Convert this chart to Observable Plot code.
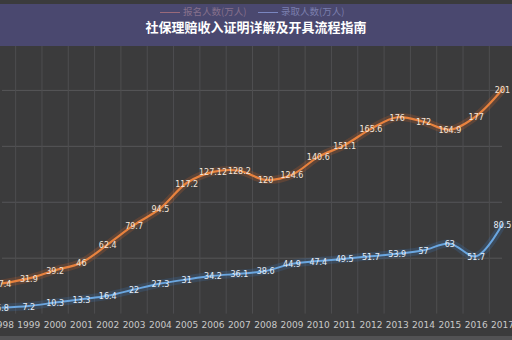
<!DOCTYPE html>
<html>
<head>
<meta charset="utf-8">
<script src="https://cdn.jsdelivr.net/npm/d3@7"></script>
<script src="https://cdn.jsdelivr.net/npm/@observablehq/plot@0.6"></script>
<style>
  html, body { margin: 0; padding: 0; background: #3a3a3a; }
  #wrap { position: relative; width: 512px; height: 340px; overflow: hidden; background: #3b3b3c; }
  #banner { position: absolute; left: 0; top: 4px; width: 512px; height: 42px; background: #4a486f; }
  #title { position: absolute; left: 0; top: 20px; width: 512px; text-align: center; color: #ffffff;
           font-family: "Noto Sans CJK SC", sans-serif; font-weight: bold; font-size: 13px; line-height: 14px; }
  .leg { position: absolute; top: 6px; font-family: "Noto Sans CJK SC", sans-serif; font-size: 9.5px; line-height: 11px; white-space: nowrap; }
  .leg span.ln { display: inline-block; width: 20px; height: 0; border-top: 1px solid; vertical-align: middle; margin-right: 3px; }
  #bottom { position: absolute; left: 0; top: 336px; width: 512px; height: 4px; background: #525254; }
  #chart { position: absolute; left: 0; top: 0; }
</style>
</head>
<body>
<div id="wrap">
  <div id="chart"></div>
  <div id="banner"></div>
  <div class="leg" style="left:160px;color:#86708c"><span class="ln" style="border-color:#9a6a7a"></span>报名人数(万人)</div>
  <div class="leg" style="left:258px;color:#7b7fae"><span class="ln" style="border-color:#7a86c0"></span>录取人数(万人)</div>
  <div id="title">社保理赔收入证明详解及开具流程指南</div>
  <div id="bottom"></div>
</div>
<script>
const years = [1998,1999,2000,2001,2002,2003,2004,2005,2006,2007,2008,2009,2010,2011,2012,2013,2014,2015,2016,2017];
const applicants = [27.4,31.9,39.2,46,62.4,79.7,94.5,117.2,127.12,128.2,120,124.6,140.6,151.1,165.6,176,172,164.9,177,201];
const admitted = [5.8,7.2,10.3,13.3,16.4,22,27.3,31,34.2,36.1,38.6,44.9,47.4,49.5,51.7,53.9,57,63,51.7,80.5];
const seriesNames = ["报名人数(万人)", "录取人数(万人)"];
const gridY = [50,100,150,200,250];
const gridX = years.slice(0, -1).map(y => y + 0.5).concat([1997.5, 2017.5]);

const dataA = years.map((y, i) => ({year: y, value: applicants[i], series: seriesNames[0]}));
const dataB = years.map((y, i) => ({year: y, value: admitted[i], series: seriesNames[1]}));

const chart = Plot.plot({
  width: 512,
  height: 340,
  marginLeft: 2,
  marginRight: 10,
  marginTop: 34,
  marginBottom: 26.4,
  style: {background: "transparent", fontFamily: "DejaVu Sans, sans-serif"},
  x: {domain: [1998, 2017], label: null},
  y: {domain: [0, 250], axis: null, label: null},
  marks: [
    Plot.ruleY(gridY, {stroke: "#565658", strokeWidth: 1}),
    Plot.ruleX(gridX, {stroke: "#4e4e50", strokeWidth: 1}),
    Plot.axisX({ticks: years, tickFormat: "d", tickSize: 0, tickPadding: 8, fontSize: 9, color: "#c9c9c9", fill: "#c9c9c9", label: null}),
    // glow
    Plot.line(dataA, {x: "year", y: "value", stroke: "#d8652a", strokeWidth: 8, strokeOpacity: 0.22, curve: "catmull-rom"}),
    Plot.line(dataB, {x: "year", y: "value", stroke: "#3d7cc4", strokeWidth: 8, strokeOpacity: 0.22, curve: "catmull-rom"}),
    Plot.line(dataA, {x: "year", y: "value", stroke: "#e8823e", strokeWidth: 2.2, curve: "catmull-rom"}),
    Plot.line(dataB, {x: "year", y: "value", stroke: "#6aa6e0", strokeWidth: 2, curve: "catmull-rom"}),
    Plot.text(dataA, {x: "year", y: "value", text: d => String(d.value), fill: "#f2e6dc", fontSize: 8, dy: 1}),
    Plot.text(dataB, {x: "year", y: "value", text: d => String(d.value), fill: "#e6eef8", fontSize: 8, dy: 1})
  ]
});
document.getElementById("chart").appendChild(chart);
</script>
</body>
</html>
